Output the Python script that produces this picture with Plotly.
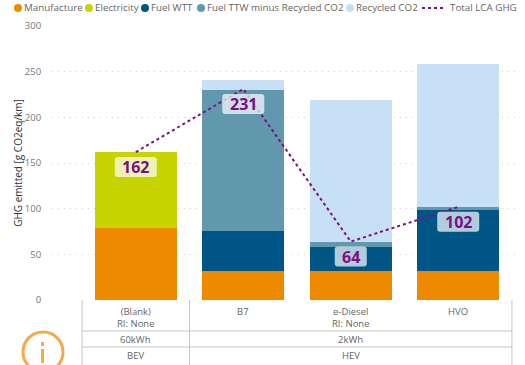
import plotly.graph_objects as go

categories = ["(Blank)", "B7", "e-Diesel", "HVO"]
cat_sub = ["RI: None", "", "RI: None", ""]
battery_groups = [("60kWh", 0, 0), ("2kWh", 1, 3)]
type_groups = [("BEV", 0, 0), ("HEV", 1, 3)]

manufacture = [79, 32, 32, 32]
electricity = [83, 0, 0, 0]
fuel_wtt = [0, 44, 26, 66]
fuel_ttw = [0, 154, 6, 4]
recycled = [0, 11, 155, 156]
total = [162, 231, 64, 102]
y_ticks = [0, 50, 100, 150, 200, 250, 300]

series = [
    ("Manufacture", manufacture, "#EE8A00"),
    ("Electricity", electricity, "#C8D400"),
    ("Fuel WTT", fuel_wtt, "#005587"),
    ("Fuel TTW minus Recycled CO2", fuel_ttw, "#6298AE"),
    ("Recycled CO2", recycled, "#C7E0F6"),
]
PURPLE = "#7A0F86"
FONT = "Open Sans"
W, H = 525, 365
L, R, T, B = 52, 5, 26, 65
PH = H - T - B


def py(px):
    """page pixel row -> paper fraction"""
    return (H - B - px) / PH


def px_x(px):
    return (px - L) / (W - L - R)


fig = go.Figure()
x = list(range(len(categories)))
for name, vals, col in series:
    fig.add_bar(x=x, y=vals, name=name, marker=dict(color=col, line=dict(width=0)),
                width=0.765, showlegend=False)
fig.add_scatter(x=x, y=total, mode="lines", name="Total LCA GHG", showlegend=False,
                line=dict(color=PURPLE, width=2, dash="dot"))

shapes, annots = [], []

# value labels with rounded backgrounds
for i, v in enumerate(total):
    w, h = (42 if v >= 100 else 32), 20
    dy = -15
    hw, hh, r = w / 2, h / 2, 3
    t, b = dy + hh, dy - hh
    path = (f"M {-hw+r} {b} L {hw-r} {b} Q {hw} {b} {hw} {b+r} L {hw} {t-r} Q {hw} {t} {hw-r} {t} "
            f"L {-hw+r} {t} Q {-hw} {t} {-hw} {t-r} L {-hw} {b+r} Q {-hw} {b} {-hw+r} {b} Z")
    shapes.append(dict(type="path", xref="x", yref="y", xsizemode="pixel", ysizemode="pixel",
                       xanchor=i, yanchor=v, path=path,
                       fillcolor="rgba(255,255,255,0.7)", line=dict(width=0), layer="above"))
    annots.append(dict(x=i, y=v, xref="x", yref="y", yshift=dy, text=f"<b>{v}</b>", showarrow=False,
                       font=dict(family=FONT, size=16, color=PURPLE)))

# table below the axis
GRID = "#C4C4C4"
for a in [331, 347]:
    shapes.append(dict(type="line", xref="x", yref="paper", x0=-0.5, x1=3.5, y0=py(a), y1=py(a),
                       line=dict(color=GRID, width=1)))
for xv in [-0.5, 0.5, 3.5]:
    shapes.append(dict(type="line", xref="x", yref="paper", x0=xv, x1=xv, y0=py(300), y1=py(365),
                       line=dict(color=GRID, width=1)))
TXT = "#666666"
for i, c in enumerate(categories):
    t = c + ("<br>" + cat_sub[i] if cat_sub[i] else "")
    annots.append(dict(x=i, xref="x", y=py(303), yref="paper", yanchor="top", text=t, showarrow=False,
                       font=dict(family=FONT, size=9.5, color=TXT), align="center"))
for groups, yc in [(battery_groups, 339), (type_groups, 355)]:
    for txt, a, b in groups:
        annots.append(dict(x=(a + b) / 2, xref="x", y=py(yc), yref="paper", yanchor="middle", text=txt,
                           showarrow=False, font=dict(family=FONT, size=9.5, color=TXT)))

# legend row
legend_x = [18, 89, 145, 201, 350]
for (name, vals, col), lx in zip(series, legend_x):
    shapes.append(dict(type="circle", xref="paper", yref="paper", xsizemode="pixel", ysizemode="pixel",
                       xanchor=px_x(lx), yanchor=py(8), x0=-4, x1=4, y0=-4, y1=4,
                       fillcolor=col, line=dict(width=0)))
    annots.append(dict(x=px_x(lx + 6), y=py(8), xref="paper", yref="paper", xanchor="left", yanchor="middle",
                       text=name, showarrow=False, xshift=-2, font=dict(family=FONT, size=9.8, color=TXT)))
shapes.append(dict(type="line", xref="paper", yref="paper", x0=px_x(422), x1=px_x(446), y0=py(8), y1=py(8),
                   line=dict(color=PURPLE, width=2, dash="dot")))
annots.append(dict(x=px_x(448), y=py(8), xref="paper", yref="paper", xanchor="left", yanchor="middle",
                   text="Total LCA GHG", showarrow=False, font=dict(family=FONT, size=9.8, color=TXT)))

# info icon
ICON = "#F5A94A"
shapes.append(dict(type="circle", xref="paper", yref="paper", x0=px_x(23), x1=px_x(63), y0=py(332), y1=py(372),
                   fillcolor="rgba(0,0,0,0)", line=dict(color=ICON, width=3)))
for top, bottom in [(342, 346), (349, 363)]:
    shapes.append(dict(type="rect", xref="paper", yref="paper", x0=px_x(41), x1=px_x(44), y0=py(top), y1=py(bottom),
                       fillcolor=ICON, line=dict(width=0)))

fig.update_layout(
    width=W, height=H, margin=dict(l=L, r=R, t=T, b=B, pad=0), barmode="stack", bargap=0.235,
    plot_bgcolor="white", paper_bgcolor="white", showlegend=False,
    font=dict(family=FONT, size=10, color=TXT), shapes=shapes, annotations=annots,
    xaxis=dict(range=[-0.78, 3.575], showticklabels=False, showgrid=False, zeroline=False, ticks=""),
    yaxis=dict(range=[0, 300], tickvals=y_ticks, showgrid=True, griddash="1px,5px", gridcolor="#CFCFCF", gridwidth=1,
               zeroline=False, ticks="outside", ticklen=8, tickcolor="rgba(0,0,0,0)",
               tickfont=dict(size=9.5, color="#777777"),
               title=dict(text="GHG emitted [g CO2eq/km]", font=dict(size=10, color="#333333"), standoff=0)),
)
fig.write_html("out.html", config={"displayModeBar": False},
               post_script="document.body.style.margin='0';document.documentElement.style.overflow='hidden';")
